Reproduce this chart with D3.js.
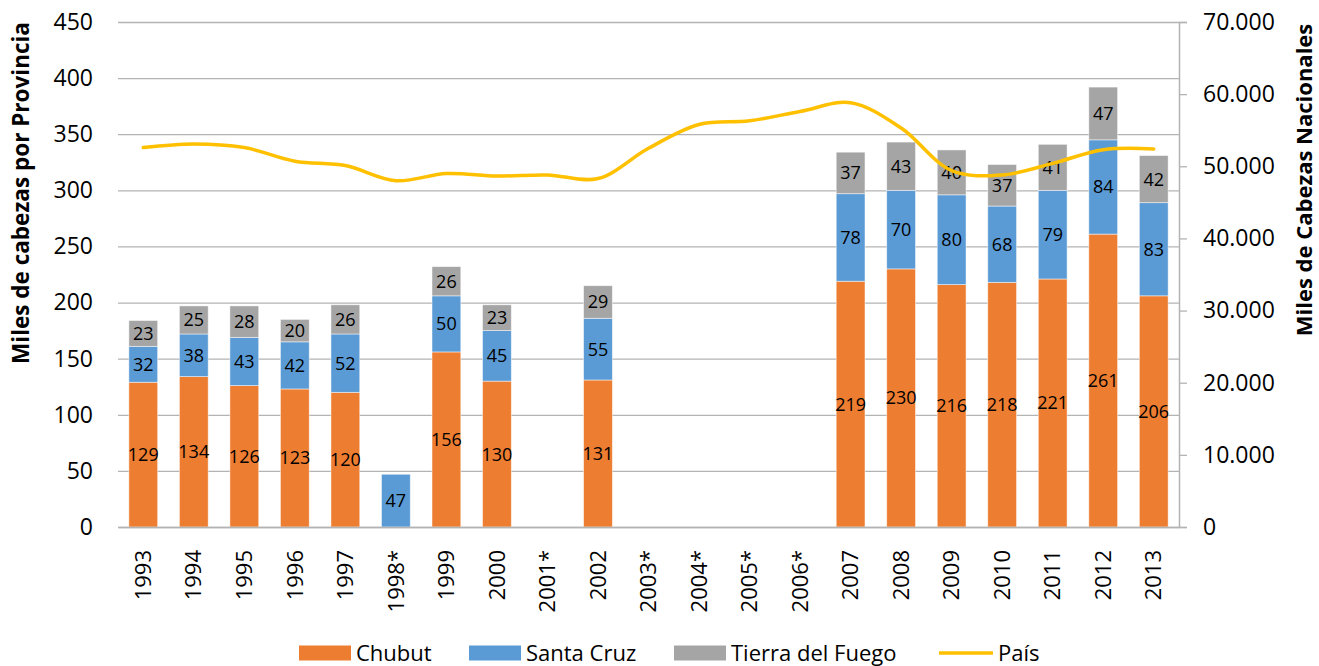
<!DOCTYPE html>
<html lang="es">
<head>
<meta charset="UTF-8">
<title>Cabezas por provincia</title>
<script src="https://d3js.org/d3.v7.min.js"></script>
<style>
  body { margin: 0; background: #fff; }
  text { font-family: "Open Sans", sans-serif; fill: #000; }
</style>
</head>
<body>
<svg id="chart" width="1319" height="666"></svg>
<script>
// datos (miles de cabezas)
var years = ["1993","1994","1995","1996","1997","1998*","1999","2000","2001*","2002",
             "2003*","2004*","2005*","2006*","2007","2008","2009","2010","2011","2012","2013"];
var chubut  = [129,134,126,123,120,null,156,130,null,131,null,null,null,null,219,230,216,218,221,261,206];
var santaCruz = [32,38,43,42,52,47,50,45,null,55,null,null,null,null,78,70,80,68,79,84,83];
var tierra  = [23,25,28,20,26,null,26,23,null,29,null,null,null,null,37,43,40,37,41,47,42];
// total nacional (miles de cabezas, eje derecho)
var pais = [52600,53100,52600,50700,50100,48000,49000,48650,48800,48300,
            52500,55800,56300,57600,58800,55300,49400,48800,50400,52300,52400];
var leftTicks = [0,50,100,150,200,250,300,350,400,450];
var rightTicks = [0,10000,20000,30000,40000,50000,60000,70000];

var seriesNames = ["Chubut", "Santa Cruz", "Tierra del Fuego"];
var seriesColors = ["#ED7D31", "#5B9BD5", "#A5A5A5"];
var lineColor = "#FFC000";

var svg = d3.select("#chart");
var plotLeft = 118, plotRight = 1179, plotTop = 22, plotBottom = 527;

var x = d3.scaleBand().domain(years).range([plotLeft, plotRight]).paddingInner(0.43).paddingOuter(0.215);
var y = d3.scaleLinear().domain([0, 450]).range([plotBottom, plotTop]);
var y2 = d3.scaleLinear().domain([0, 70000]).range([plotBottom, plotTop]);

var es = d3.formatLocale({decimal: ",", thousands: ".", grouping: [3], currency: ["$", ""]});

// lineas de grilla
svg.append("g")
    .attr("transform", "translate(" + plotLeft + ",0)")
    .call(d3.axisLeft(y).tickValues(leftTicks).tickSize(-(plotRight - plotLeft)).tickFormat(""))
    .call(function(g) {
        g.select(".domain").remove();
        g.selectAll("line").attr("stroke", "#b3b3b3").attr("stroke-width", 1.3);
    });

// etiquetas eje izquierdo
svg.append("g")
    .attr("transform", "translate(" + plotLeft + ",0)")
    .call(d3.axisLeft(y).tickValues(leftTicks).tickSize(0).tickPadding(25))
    .call(function(g) {
        g.select(".domain").remove();
        g.selectAll("text").style("font-size", "23px").attr("fill", "#000");
    });

// barras apiladas
var rows = years.map(function(yr, i) {
    return {year: yr, Chubut: chubut[i] || 0, "Santa Cruz": santaCruz[i] || 0, "Tierra del Fuego": tierra[i] || 0};
});
var stack = d3.stack().keys(seriesNames)(rows);

var layers = svg.selectAll(".layer")
    .data(stack)
    .enter().append("g")
    .attr("class", "layer")
    .attr("fill", function(d, i) { return seriesColors[i]; });

layers.selectAll("rect")
    .data(function(d) { return d.filter(function(p) { return p[1] > p[0]; }); })
    .enter().append("rect")
    .attr("x", function(d) { return x(d.data.year); })
    .attr("width", x.bandwidth())
    .attr("y", function(d) { return y(d[1]); })
    .attr("height", function(d) { return y(d[0]) - y(d[1]); })
    .attr("stroke", "#fff")
    .attr("stroke-opacity", 0.6)
    .attr("stroke-width", 0.8);

layers.selectAll("text")
    .data(function(d) { return d.filter(function(p) { return p[1] > p[0]; }); })
    .enter().append("text")
    .attr("x", function(d) { return x(d.data.year) + x.bandwidth() / 2; })
    .attr("y", function(d) { return y((d[0] + d[1]) / 2); })
    .attr("dy", "0.36em")
    .attr("text-anchor", "middle")
    .style("font-size", "18px")
    .text(function(d) { return d[1] - d[0]; });

// eje inferior
svg.append("g")
    .attr("transform", "translate(0," + plotBottom + ")")
    .call(d3.axisBottom(x).tickSize(0).tickPadding(0))
    .call(function(g) {
        g.select(".domain").attr("stroke", "#b3b3b3").attr("stroke-width", 1.5);
        g.selectAll("text")
            .style("font-size", "22px")
            .attr("fill", "#000")
            .attr("transform", "rotate(-90)")
            .attr("text-anchor", "end")
            .attr("x", -23)
            .attr("y", 0)
            .attr("dy", "0.35em");
    });

// eje derecho
svg.append("g")
    .attr("transform", "translate(" + plotRight + ",0)")
    .call(d3.axisRight(y2).tickValues(rightTicks).tickSize(8).tickPadding(16)
        .tickFormat(function(d) { return es.format(",d")(d); }))
    .call(function(g) {
        g.select(".domain").attr("stroke", "#b3b3b3").attr("stroke-width", 1.5);
        g.selectAll("line").attr("stroke", "#b3b3b3").attr("stroke-width", 1.3);
        g.selectAll("text").style("font-size", "23px").attr("fill", "#000");
    });

// linea Pais
var line = d3.line()
    .x(function(d, i) { return x(years[i]) + x.bandwidth() / 2; })
    .y(function(d) { return y2(d); })
    .curve(d3.curveCatmullRom.alpha(0.5));

svg.append("path")
    .datum(pais)
    .attr("fill", "none")
    .attr("stroke", lineColor)
    .attr("stroke-width", 3.5)
    .attr("stroke-linecap", "round")
    .attr("d", line);

// titulos de ejes
svg.append("text")
    .attr("transform", "translate(29,193) rotate(-90)")
    .attr("text-anchor", "middle")
    .style("font-size", "22.5px")
    .style("font-weight", "bold")
    .text("Miles de cabezas por Provincia");

svg.append("text")
    .attr("transform", "translate(1312,180) rotate(-90)")
    .attr("text-anchor", "middle")
    .style("font-size", "22px")
    .style("font-weight", "bold")
    .text("Miles de Cabezas Nacionales");

// leyenda
var legendItems = [
    {name: "Chubut", color: seriesColors[0], x: 299, type: "rect"},
    {name: "Santa Cruz", color: seriesColors[1], x: 469, type: "rect"},
    {name: "Tierra del Fuego", color: seriesColors[2], x: 674, type: "rect"},
    {name: "País", color: lineColor, x: 939, type: "line"}
];
var legend = svg.selectAll(".legend")
    .data(legendItems)
    .enter().append("g")
    .attr("class", "legend")
    .attr("transform", function(d) { return "translate(" + d.x + ",653)"; });

legend.filter(function(d) { return d.type === "rect"; })
    .append("rect")
    .attr("x", 0).attr("y", -7.5)
    .attr("width", 52).attr("height", 15)
    .attr("fill", function(d) { return d.color; });

legend.filter(function(d) { return d.type === "line"; })
    .append("line")
    .attr("x1", 0).attr("x2", 54).attr("y1", 0).attr("y2", 0)
    .attr("stroke", function(d) { return d.color; })
    .attr("stroke-width", 3.5);

legend.append("text")
    .attr("x", function(d) { return d.type === "line" ? 59 : 57; })
    .attr("dy", "0.36em")
    .style("font-size", "22px")
    .text(function(d) { return d.name; });
</script>
</body>
</html>
